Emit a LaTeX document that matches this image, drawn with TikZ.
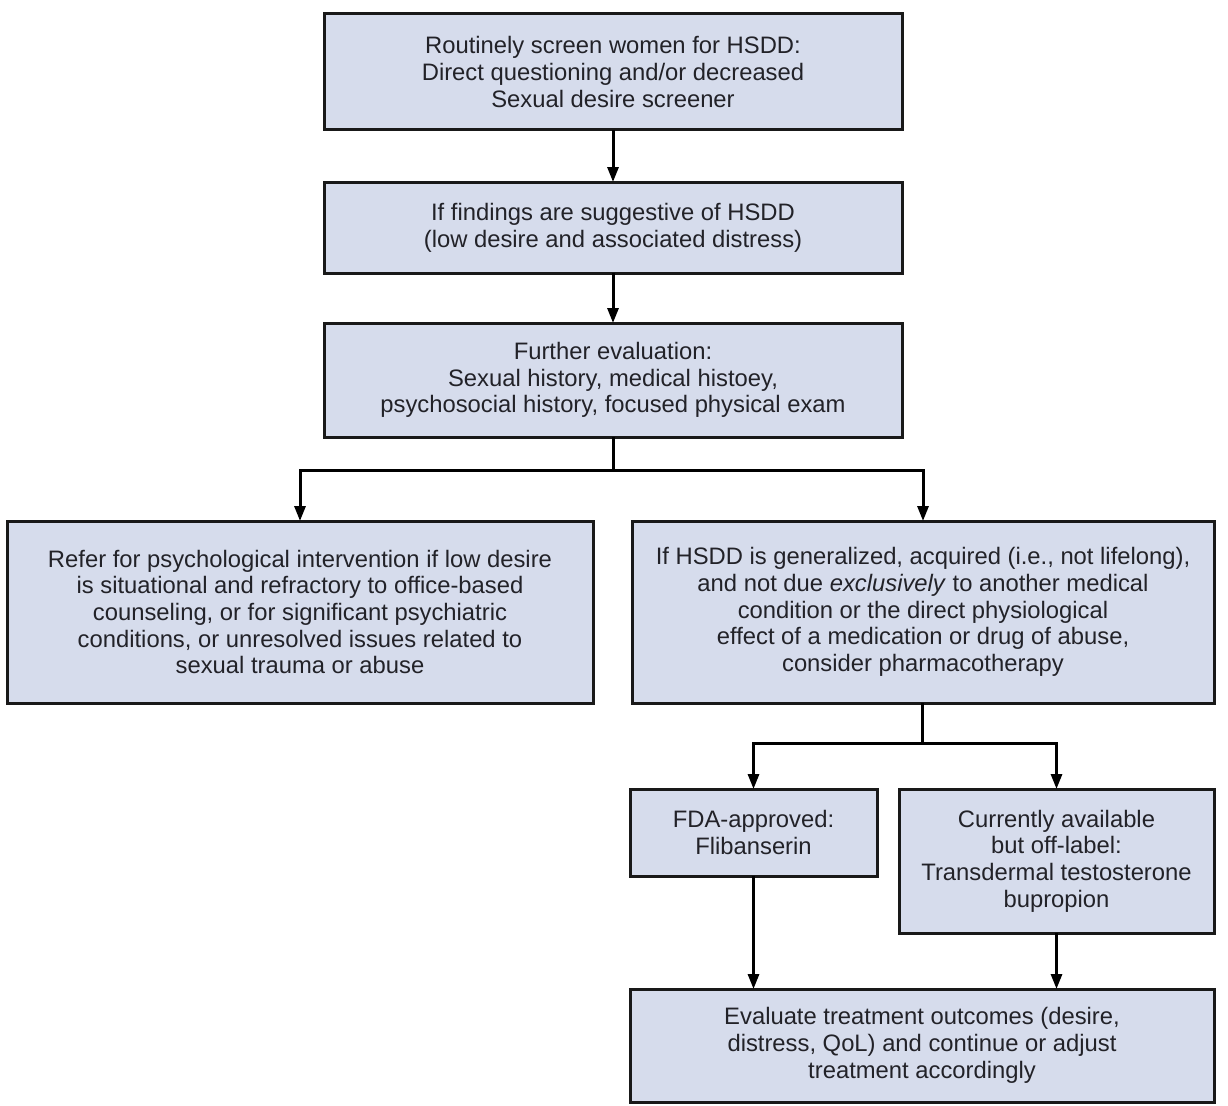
\documentclass[tikz,border=0pt]{standalone}
\usepackage{fontspec}
\setmainfont{Liberation Sans}
\usepackage{xcolor}
\usetikzlibrary{arrows.meta}
\definecolor{boxfill}{RGB}{214,220,236}
\definecolor{boxtext}{RGB}{34,34,40}
\begin{document}
\begin{tikzpicture}[
  x=1pt, y=-1pt,
  font=\fontsize{23.8}{26.7}\selectfont,
  box/.style={draw=black!90, line width=3pt, fill=boxfill, text=boxtext,
              align=center, inner sep=0pt, outer sep=0pt},
  arr/.style={-{Triangle[width=11pt,length=15pt]}, line width=3pt},
  ln/.style={line width=3pt},
]
\useasboundingbox (0,0) rectangle (1228,1105);

% ---- Screening ----
\node[box, minimum width=578pt, minimum height=116pt] (screen) at (613,72)
  {Routinely screen women for HSDD:\\Direct questioning and/or decreased\\Sexual desire screener};

% ---- Findings ----
\node[box, minimum width=578pt, minimum height=91pt] (find) at (613,227.5)
  {If findings are suggestive of HSDD\\(low desire and associated distress)};

% ---- Further evaluation ----
\node[box, minimum width=578pt, minimum height=114pt] (evalu) at (613,380)
  {Further evaluation:\\Sexual history, medical histoey,\\psychosocial history, focused physical exam};

% ---- Two branches ----
\node[box, minimum width=586pt, minimum height=182pt] (refer) at (300,612)
  {Refer for psychological intervention if low desire\\
   is situational and refractory to office-based\\
   counseling, or for significant psychiatric\\
   conditions, or unresolved issues related to\\
   sexual trauma or abuse};
\node[box, minimum width=582pt, minimum height=182pt] (pharma) at (923,612)
  {If HSDD is generalized, acquired (i.e., not lifelong),\\
   and not due \textit{exclusively} to another medical\\
   condition or the direct physiological\\
   effect of a medication or drug of abuse,\\
   consider pharmacotherapy};

% ---- Drug options ----
\node[box, minimum width=247pt, minimum height=87pt] (fda) at (753.5,832.5)
  {FDA-approved:\\Flibanserin};
\node[box, minimum width=315pt, minimum height=144pt] (offlabel) at (1056.5,861)
  {Currently available\\but off-label:\\Transdermal testosterone\\bupropion};

% ---- Outcome ----
\node[box, minimum width=584pt, minimum height=113pt] (outcome) at (922,1045.5)
  {Evaluate treatment outcomes (desire,\\distress, QoL) and continue or adjust\\treatment accordingly};

% Split points
\coordinate (split1) at (613,470);
\coordinate (split2) at (922,743);

% Straight arrows
\foreach \a/\b in {screen/find, find/evalu}
  \draw[arr] (\a) -- (\b);

% Branches
\draw[ln] (evalu) -- (split1);
\draw[arr] (split1) -| (refer);
\draw[arr] (split1) -| (pharma);
\draw[ln] (pharma.south -| split2) -- (split2);
\draw[arr] (split2) -| (fda);
\draw[arr] (split2) -| (offlabel);

% Into outcome
\foreach \a in {fda, offlabel}
  \draw[arr] (\a) -- (\a |- outcome.north);
\end{tikzpicture}
\end{document}
